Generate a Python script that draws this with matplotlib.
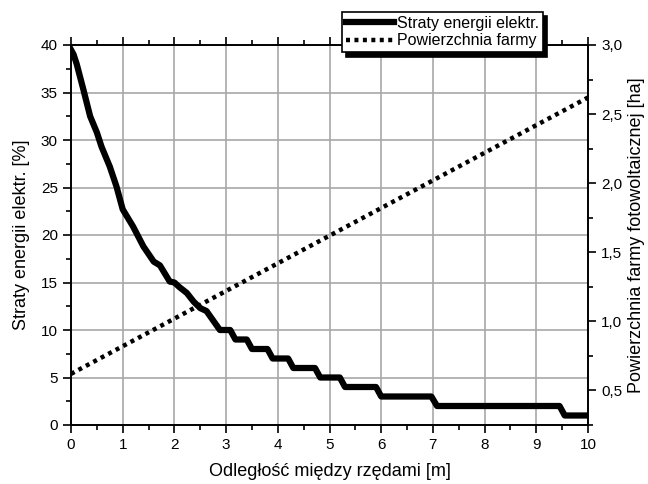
import numpy as np
import matplotlib
matplotlib.use('Agg')
import matplotlib.pyplot as plt
from matplotlib.ticker import MultipleLocator, FuncFormatter

plt.rcParams['font.family'] = ['Liberation Sans', 'DejaVu Sans']

# straty energii [%] vs odleglosc [m]
dist_loss = [0, 0.05, 0.11, 0.24, 0.37, 0.5, 0.59, 0.75, 0.88, 1.0, 1.2, 1.4,
             1.6, 1.72, 1.91, 2.0, 2.1, 2.24, 2.37, 2.5, 2.62, 2.75, 2.88,
             3.08, 3.18, 3.4, 3.5, 3.8, 3.9, 4.2, 4.3, 4.72, 4.82, 5.2, 5.3,
             5.9, 6.0, 6.97, 7.08, 9.45, 9.55, 10.0]
loss = [39.5, 39.0, 38.0, 35.3, 32.5, 30.8, 29.3, 27.2, 25.1, 22.7, 20.9, 18.8,
        17.2, 16.8, 15.1, 15.0, 14.5, 13.9, 13.0, 12.3, 12.0, 11.0, 10.0,
        10.0, 9.0, 9.0, 8.0, 8.0, 7.0, 7.0, 6.0, 6.0, 5.0, 5.0, 4.0,
        4.0, 3.0, 3.0, 2.0, 2.0, 1.0, 1.0]

# powierzchnia farmy [ha]
dist_area = [0, 1, 2, 3, 4, 5, 6, 7, 8, 9, 10]
area = [0.62, 0.82, 1.02, 1.22, 1.42, 1.62, 1.82, 2.02, 2.22, 2.42, 2.62]

fig = plt.figure(figsize=(6.48, 4.84), dpi=100)
ax = fig.add_axes([71/648, 1 - 425/484, (588 - 71)/648, (425 - 45)/484])
ax2 = ax.twinx()

ax.grid(True, which='major', color='#a8a8a8', lw=1.2)
ax.set_axisbelow(True)

l1, = ax.plot(dist_loss, loss, color='black', lw=4.5, solid_joinstyle='round',
              label='Straty energii elektr.')
l2, = ax2.plot(dist_area, area, color='black', lw=3.2, linestyle=(0, (0.9, 1.0)),
               dash_capstyle='butt', label='Powierzchnia farmy')

ax.set_xlim(0, 10)
ax.set_ylim(0, 40)
ax2.set_ylim(0.25, 3.0)

ax.xaxis.set_major_locator(MultipleLocator(1))
ax.xaxis.set_minor_locator(MultipleLocator(0.5))
ax.yaxis.set_major_locator(MultipleLocator(5))
ax.yaxis.set_minor_locator(MultipleLocator(2.5))
ax2.yaxis.set_major_locator(MultipleLocator(0.5))
ax2.yaxis.set_minor_locator(MultipleLocator(0.25))
ax2.yaxis.set_major_formatter(FuncFormatter(lambda v, p: f'{v:.1f}'.replace('.', ',')))

ax.tick_params(axis='both', which='major', direction='out', length=6, width=1.2,
               labelsize=11, top=True)
ax.tick_params(axis='both', which='minor', direction='out', length=3.5, width=1.2, top=True)
ax2.tick_params(axis='y', which='major', direction='out', length=6, width=1.2, labelsize=11)
ax2.tick_params(axis='y', which='minor', direction='out', length=3.5, width=1.2)

for a in (ax, ax2):
    for s in a.spines.values():
        s.set_linewidth(1.2)

ax.set_xlabel('Odległość między rzędami [m]', fontsize=13, labelpad=8)
ax.set_ylabel('Straty energii elektr. [%]', fontsize=13, labelpad=8)
ax2.set_ylabel('Powierzchnia farmy fotowoltaicznej [ha]', fontsize=13, labelpad=4)

leg = ax2.legend(handles=[l1, l2], loc='upper left',
                 bbox_to_anchor=(342/648, 1 - 12/484), bbox_transform=fig.transFigure,
                 fontsize=11.5, frameon=True, fancybox=False, handlelength=3.0,
                 handletextpad=0.2, borderpad=0.25, labelspacing=0.15,
                 borderaxespad=0, shadow={'color': 'black', 'alpha': 1.0, 'ox': 3, 'oy': -3})
leg.get_frame().set_edgecolor('black')
leg.get_frame().set_linewidth(1.2)
leg.set_zorder(10)

fig.savefig('out.png', dpi=100)
